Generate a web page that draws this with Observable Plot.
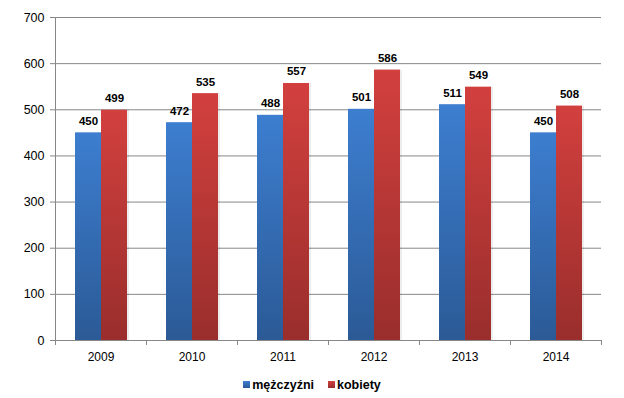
<!DOCTYPE html>
<html>
<head>
<meta charset="utf-8">
<script src="https://cdn.jsdelivr.net/npm/d3@7"></script>
<script src="https://cdn.jsdelivr.net/npm/@observablehq/plot@0.6"></script>
<style>
  body { margin: 0; background: #fff; font-family: "Liberation Sans", Arial, sans-serif; }
  #legend { display: flex; justify-content: center; gap: 14px; margin-top: 6px; line-height: 18px;
            font-weight: bold; font-size: 12.5px; color: #000; padding-left: 0px; }
  #legend span.sw { display: inline-block; width: 7px; height: 7px; margin-right: 2px; vertical-align: 1px; }
</style>
</head>
<body>
<div id="chart"></div>
<div id="legend"></div>
<script>
const years = ["2009", "2010", "2011", "2012", "2013", "2014"];
const series = ["mężczyźni", "kobiety"];
const men = [450, 472, 488, 501, 511, 450];
const women = [499, 535, 557, 586, 549, 508];
const yTicks = [0, 100, 200, 300, 400, 500, 600, 700];
const colors = {
  "mężczyźni": ["#3d7ed0", "#2b5a96"],
  "kobiety": ["#d2403e", "#992e2c"]
};

const rows = years.flatMap((y, i) => [
  {year: y, series: series[0], value: men[i]},
  {year: y, series: series[1], value: women[i]}
]);

const W = 624, H = 370, ML = 55, MR = 23, MT = 17, MB = 30;
const half = (W - ML - MR) / years.length / 2;
const gray = "#878787";
const gid = s => "grad" + series.indexOf(s);

const chart = Plot.plot({
  width: W, height: H,
  marginLeft: ML, marginRight: MR, marginTop: MT, marginBottom: MB,
  style: {fontFamily: "'Liberation Sans', Arial, sans-serif", fontSize: "12.5px", color: "#000", background: "#fff"},
  fx: {domain: years, paddingInner: 0, paddingOuter: 0, label: null},
  x: {domain: series, paddingInner: 0, paddingOuter: 0.75, axis: null},
  y: {domain: [0, 700], axis: null},
  marks: [
    Plot.gridY(yTicks, {stroke: gray, strokeOpacity: 1}),
    Plot.barY(rows, {fx: "year", x: "series", y: "value", fill: "#000", fillOpacity: 0.07, dx: 2}),
    ...series.map(s => Plot.barY(rows.filter(d => d.series === s), {fx: "year", x: "series", y: "value", fill: `url(#${gid(s)})`})),
    Plot.text(rows, {fx: "year", x: "series", y: "value", text: "value", lineAnchor: "bottom", dy: -8, fontWeight: "bold", fontSize: 11.5, fill: "#000"}),
    Plot.ruleY([0], {stroke: gray}),
    Plot.ruleX([years[0]], {fx: d => d, x: null, dx: -half, y1: 700, y2: 0, stroke: gray}),
    Plot.ruleX(years, {fx: d => d, x: null, dx: -half, y1: 0, y2: 0, insetBottom: -5, stroke: gray}),
    Plot.ruleX([years[years.length - 1]], {fx: d => d, x: null, dx: half, y1: 0, y2: 0, insetBottom: -5, stroke: gray}),
    Plot.axisY(yTicks, {tickSize: 5, tickPadding: 6, stroke: gray, fill: "#000", label: null}),
    Plot.axisFx({anchor: "bottom", tickSize: 0, tickPadding: 12, label: null, fontSize: 12})
  ]
});

const defs = d3.select(chart).insert("defs", ":first-child");
series.forEach(s => {
  const g = defs.append("linearGradient").attr("id", gid(s)).attr("x1", 0).attr("y1", 0).attr("x2", 0).attr("y2", 1);
  g.append("stop").attr("offset", "0%").attr("stop-color", colors[s][0]);
  g.append("stop").attr("offset", "100%").attr("stop-color", colors[s][1]);
});
document.getElementById("chart").appendChild(chart);

const legend = d3.select("#legend");
series.forEach(s => {
  const item = legend.append("div");
  item.append("span").attr("class", "sw").style("background", `linear-gradient(${colors[s][0]}, ${colors[s][1]})`);
  item.append("span").text(s);
});
</script>
</body>
</html>
